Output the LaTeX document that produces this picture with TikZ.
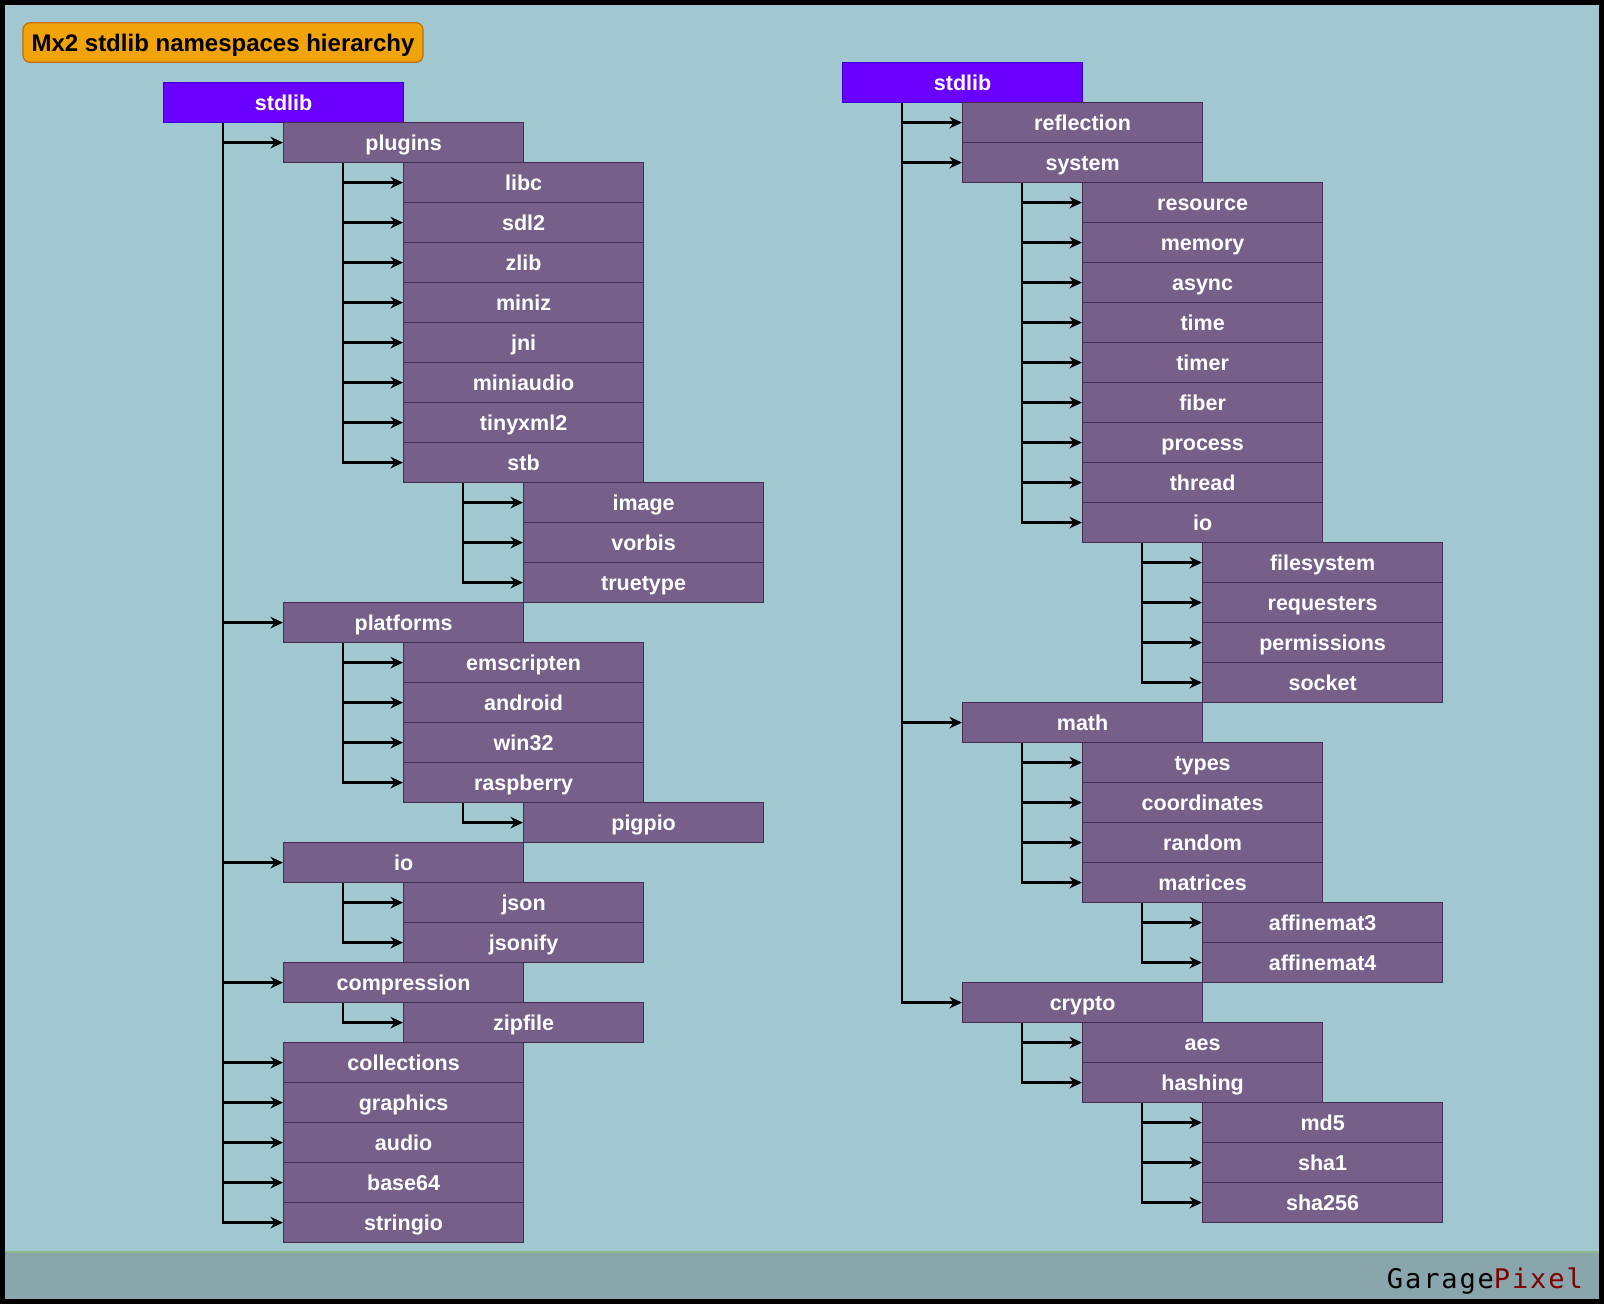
\documentclass[tikz,border=0pt]{standalone}
\usepackage{fontspec}
\setmainfont{Liberation Sans}
\newfontfamily\gpfont[LetterSpace=7]{DejaVu Sans Mono}
\usetikzlibrary{calc,arrows.meta}
\definecolor{bgc}{HTML}{A1C8D1}
\definecolor{footc}{HTML}{89A6AD}
\definecolor{footline}{HTML}{8FB98B}
\definecolor{boxfill}{HTML}{76608A}
\definecolor{boxline}{HTML}{432D57}
\definecolor{rootfill}{HTML}{6A00FF}
\definecolor{rootline}{HTML}{3700CC}
\definecolor{amber}{HTML}{F0A30A}
\definecolor{amberline}{HTML}{BD7000}
\definecolor{pixred}{HTML}{800000}
\tikzset{
  nsbox/.style={draw=boxline, fill=boxfill, line width=1.2pt, minimum width=240pt,
    minimum height=40pt, inner sep=0pt, text=white, anchor=north west,
    text height=18pt, text depth=3pt,
    font=\bfseries\fontsize{21.5}{24}\selectfont},
  rootbox/.style={nsbox, draw=rootline, fill=rootfill},
  link/.style={draw=black, line width=2.3pt, -{Stealth[length=12.5pt,width=11.5pt]}},
  titlebox/.style={draw=amberline, fill=amber, line width=1.2pt, rounded corners=7pt,
    minimum width=400pt, minimum height=39.5pt, inner sep=0pt, text=black,
    text height=20pt, text depth=1.6pt,
    font=\bfseries\fontsize{24}{26}\selectfont}
}
\newcommand\Lb[5]{\node[#1] (#2) at ({163+120*#4},{82+40*#3}) {#5};}
\newcommand\Rb[5]{\node[#1] (#2) at ({842+120*#4},{62+40*#3}) {#5};}
\begin{document}
\begin{tikzpicture}[x=1pt,y=-1pt]
\useasboundingbox (0,0) rectangle (1604,1304);
\fill[bgc] (0,0) rectangle (1604,1304);
\fill[footc] (3,1252) rectangle (1601,1301);
\draw[footline, line width=1.5pt] (3,1252) -- (1601,1252);
\node[anchor=base east, inner sep=0pt, font=\gpfont\fontsize{27}{29}\selectfont] (gp) at (1583,1288) {Garage\textcolor{pixred}{Pixel}};
\draw[line width=5pt] (2.5,2.5) rectangle (1601.5,1301.5);

\node[titlebox] (ttl) at (223,42.5) {Mx2 stdlib namespaces hierarchy};

% left tree
\Lb{rootbox}{lstd}{0}{0}{stdlib}
\Lb{nsbox}{plugins}{1}{1}{plugins}
\Lb{nsbox}{libc}{2}{2}{libc}
\Lb{nsbox}{sdl2}{3}{2}{sdl2}
\Lb{nsbox}{zlib}{4}{2}{zlib}
\Lb{nsbox}{miniz}{5}{2}{miniz}
\Lb{nsbox}{jni}{6}{2}{jni}
\Lb{nsbox}{miniaudio}{7}{2}{miniaudio}
\Lb{nsbox}{tinyxml}{8}{2}{tinyxml2}
\Lb{nsbox}{stb}{9}{2}{stb}
\Lb{nsbox}{image}{10}{3}{image}
\Lb{nsbox}{vorbis}{11}{3}{vorbis}
\Lb{nsbox}{truetype}{12}{3}{truetype}
\Lb{nsbox}{platforms}{13}{1}{platforms}
\Lb{nsbox}{emscripten}{14}{2}{emscripten}
\Lb{nsbox}{android}{15}{2}{android}
\Lb{nsbox}{win32}{16}{2}{win32}
\Lb{nsbox}{raspberry}{17}{2}{raspberry}
\Lb{nsbox}{pigpio}{18}{3}{pigpio}
\Lb{nsbox}{lio}{19}{1}{io}
\Lb{nsbox}{json}{20}{2}{json}
\Lb{nsbox}{jsonify}{21}{2}{jsonify}
\Lb{nsbox}{compression}{22}{1}{compression}
\Lb{nsbox}{zipfile}{23}{2}{zipfile}
\Lb{nsbox}{collections}{24}{1}{collections}
\Lb{nsbox}{graphics}{25}{1}{graphics}
\Lb{nsbox}{audio}{26}{1}{audio}
\Lb{nsbox}{base}{27}{1}{base64}
\Lb{nsbox}{stringio}{28}{1}{stringio}

% right tree
\Rb{rootbox}{rstd}{0}{0}{stdlib}
\Rb{nsbox}{reflection}{1}{1}{reflection}
\Rb{nsbox}{system}{2}{1}{system}
\Rb{nsbox}{resource}{3}{2}{resource}
\Rb{nsbox}{memory}{4}{2}{memory}
\Rb{nsbox}{async}{5}{2}{async}
\Rb{nsbox}{time}{6}{2}{time}
\Rb{nsbox}{timer}{7}{2}{timer}
\Rb{nsbox}{fiber}{8}{2}{fiber}
\Rb{nsbox}{process}{9}{2}{process}
\Rb{nsbox}{thread}{10}{2}{thread}
\Rb{nsbox}{rio}{11}{2}{io}
\Rb{nsbox}{filesystem}{12}{3}{filesystem}
\Rb{nsbox}{requesters}{13}{3}{requesters}
\Rb{nsbox}{permissions}{14}{3}{permissions}
\Rb{nsbox}{socket}{15}{3}{socket}
\Rb{nsbox}{math}{16}{1}{math}
\Rb{nsbox}{types}{17}{2}{types}
\Rb{nsbox}{coordinates}{18}{2}{coordinates}
\Rb{nsbox}{random}{19}{2}{random}
\Rb{nsbox}{matrices}{20}{2}{matrices}
\Rb{nsbox}{affA}{21}{3}{affinemat3}
\Rb{nsbox}{affB}{22}{3}{affinemat4}
\Rb{nsbox}{crypto}{23}{1}{crypto}
\Rb{nsbox}{aes}{24}{2}{aes}
\Rb{nsbox}{hashing}{25}{2}{hashing}
\Rb{nsbox}{md}{26}{3}{md5}
\Rb{nsbox}{shaA}{27}{3}{sha1}
\Rb{nsbox}{shaB}{28}{3}{sha256}

\foreach \p/\c in {lstd/plugins,lstd/platforms,lstd/lio,lstd/compression,lstd/collections,
  lstd/graphics,lstd/audio,lstd/base,lstd/stringio,
  plugins/libc,plugins/sdl2,plugins/zlib,plugins/miniz,plugins/jni,plugins/miniaudio,
  plugins/tinyxml,plugins/stb,stb/image,stb/vorbis,stb/truetype,
  platforms/emscripten,platforms/android,platforms/win32,platforms/raspberry,
  raspberry/pigpio,lio/json,lio/jsonify,compression/zipfile,
  rstd/reflection,rstd/system,rstd/math,rstd/crypto,
  system/resource,system/memory,system/async,system/time,system/timer,system/fiber,
  system/process,system/thread,system/rio,
  rio/filesystem,rio/requesters,rio/permissions,rio/socket,
  math/types,math/coordinates,math/random,math/matrices,
  matrices/affA,matrices/affB,crypto/aes,crypto/hashing,
  hashing/md,hashing/shaA,hashing/shaB}
  \draw[link] ($(\p.south west)+(60pt,0)$) |- (\c.west);
\end{tikzpicture}
\end{document}
